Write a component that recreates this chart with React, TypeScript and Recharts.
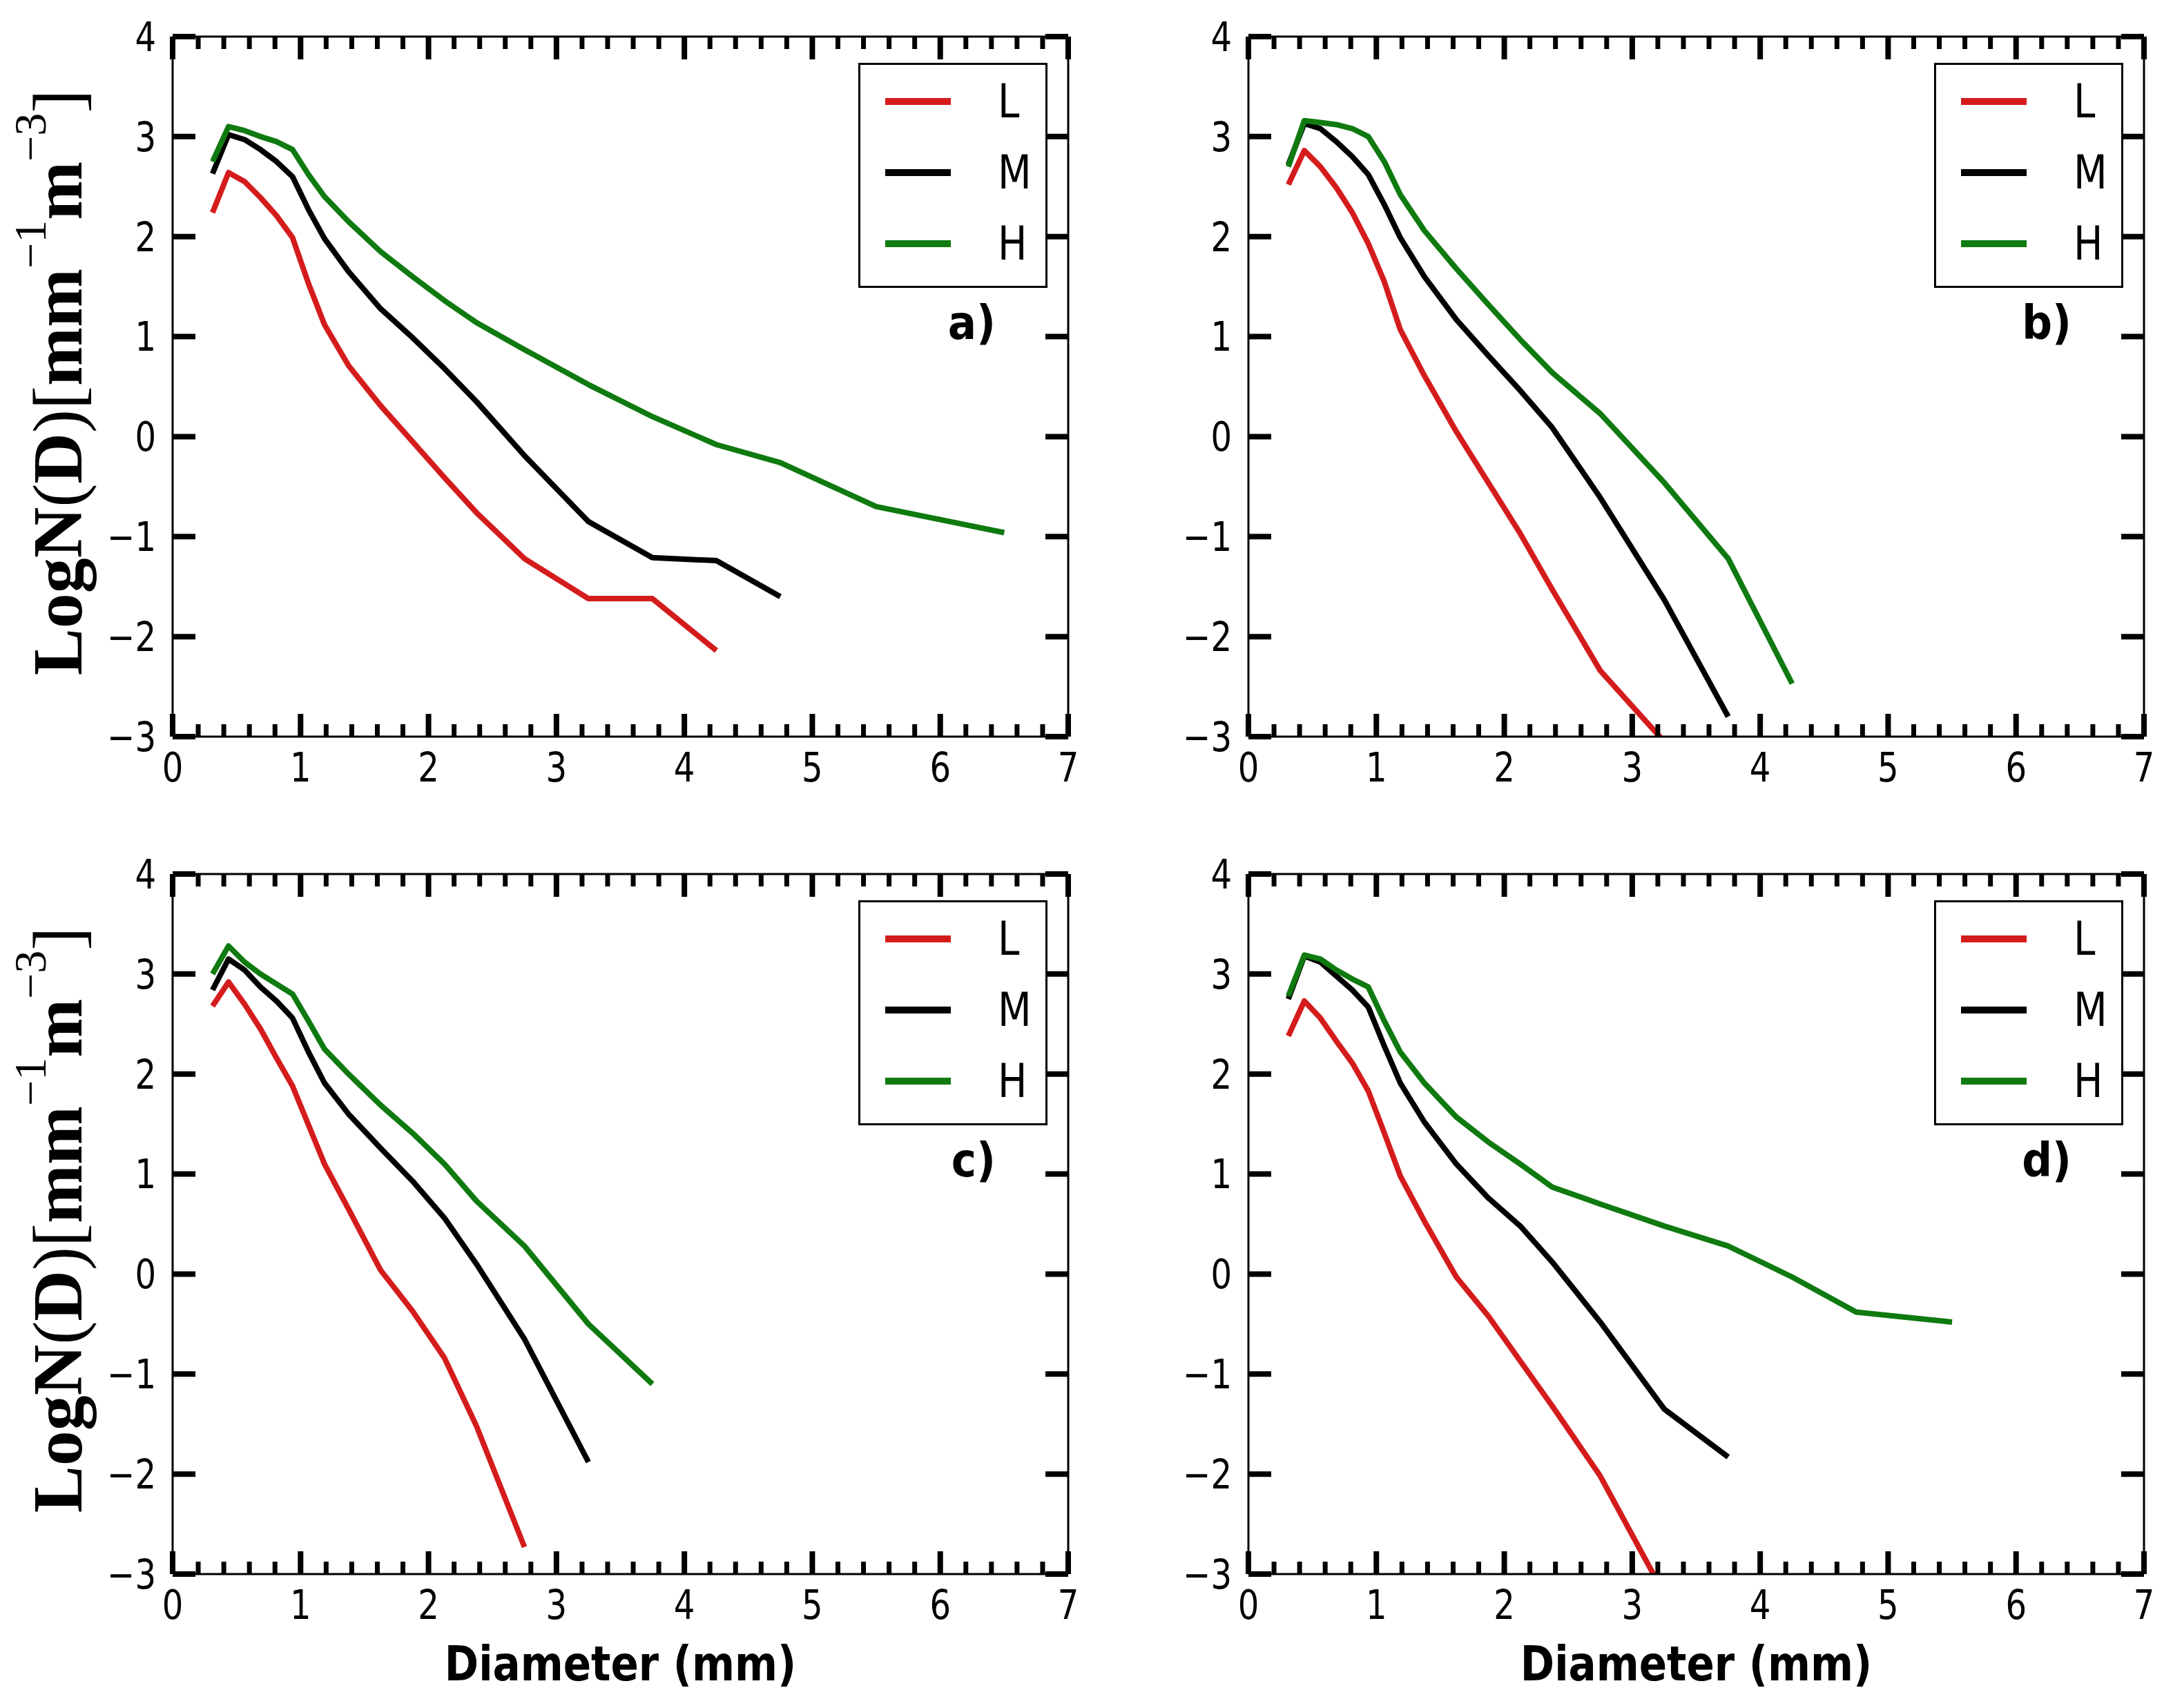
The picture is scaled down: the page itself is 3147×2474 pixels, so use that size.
import { LineChart, Line, XAxis, YAxis, Legend } from "recharts"

// Parsivel bin centres (mm)
const DIAMETERS = [0.312, 0.437, 0.562, 0.687, 0.812, 0.937, 1.062, 1.187, 1.375, 1.625, 1.875, 2.125, 2.375, 2.75, 3.25, 3.75, 4.25, 4.75, 5.5, 6.5]

const A_L = [2.24, 2.64, 2.55, 2.39, 2.21, 1.99, 1.53, 1.12, 0.71, 0.31, -0.05, -0.41, -0.76, -1.22, -1.62, -1.62, -2.14]
const A_M = [2.63, 3.02, 2.97, 2.87, 2.75, 2.6, 2.27, 1.98, 1.65, 1.28, 0.99, 0.68, 0.35, -0.19, -0.85, -1.21, -1.24, -1.6]
const A_H = [2.75, 3.1, 3.06, 3.0, 2.95, 2.87, 2.62, 2.4, 2.15, 1.85, 1.6, 1.36, 1.14, 0.87, 0.52, 0.2, -0.08, -0.26, -0.7, -0.96]

const B_L = [2.52, 2.86, 2.7, 2.49, 2.24, 1.93, 1.55, 1.07, 0.61, 0.05, -0.46, -0.97, -1.53, -2.34, -3.05]
const B_M = [2.72, 3.13, 3.08, 2.95, 2.8, 2.62, 2.32, 1.99, 1.6, 1.17, 0.81, 0.46, 0.09, -0.61, -1.63, -2.8]
const B_H = [2.7, 3.16, 3.14, 3.12, 3.08, 3.0, 2.75, 2.42, 2.06, 1.68, 1.32, 0.97, 0.64, 0.23, -0.46, -1.22, -2.47]

const C_L = [2.68, 2.92, 2.7, 2.45, 2.16, 1.88, 1.49, 1.1, 0.65, 0.04, -0.37, -0.84, -1.52, -2.73]
const C_M = [2.84, 3.15, 3.04, 2.87, 2.73, 2.56, 2.22, 1.91, 1.6, 1.26, 0.93, 0.56, 0.1, -0.65, -1.88]
const C_H = [3.0, 3.28, 3.12, 3.0, 2.9, 2.8, 2.53, 2.25, 2.0, 1.69, 1.41, 1.1, 0.73, 0.28, -0.5, -1.1]

const D_L = [2.38, 2.73, 2.56, 2.33, 2.11, 1.83, 1.41, 0.98, 0.53, -0.03, -0.42, -0.87, -1.32, -2.02, -3.2]
const D_M = [2.75, 3.18, 3.12, 2.98, 2.84, 2.67, 2.28, 1.91, 1.52, 1.1, 0.76, 0.48, 0.12, -0.48, -1.35, -1.83]
const D_H = [2.78, 3.19, 3.15, 3.04, 2.95, 2.87, 2.53, 2.22, 1.91, 1.57, 1.32, 1.1, 0.87, 0.7, 0.48, 0.28, -0.03, -0.38, -0.48]

const SERIES_NAMES = ["L", "M", "H"]
const SERIES_COLORS = ["#d41c1c", "#000000", "#0f7a0f"]

const Y_TICKS = [-3, -2, -1, 0, 1, 2, 3, 4]
const X_TICKS = Array.from({ length: 36 }, (_, i) => Math.round(i * 2) / 10)

// geometry (px, relative to each chart box)
const CHART_W = 1580
const PLOT_LEFT = 250
const PLOT_TOP = 53
const PLOT_W = 1297
const PLOT_H = 1014
const TICK_FONT = "'DejaVu Sans', sans-serif"
const SQUEEZE = 0.83

const PANELS = [
  { letter: "a)", left: 0, top: 0, height: 1213, series: [A_L, A_M, A_H], yTitle: true, xTitle: false },
  { letter: "b)", left: 1558, top: 0, height: 1213, series: [B_L, B_M, B_H], yTitle: false, xTitle: false },
  { letter: "c)", left: 0, top: 1213, height: 1261, series: [C_L, C_M, C_H], yTitle: true, xTitle: true },
  { letter: "d)", left: 1558, top: 1213, height: 1261, series: [D_L, D_M, D_H], yTitle: false, xTitle: true },
]

const fmt = (v: number) => (v < 0 ? `\u2212${-v}` : `${v}`)
const isMajor = (v: number) => Math.abs(v - Math.round(v)) < 1e-6
const toPoints = (vals: number[]) => vals.map((v, i) => ({ d: DIAMETERS[i], v }))

function BottomTick(props: any) {
  const { x, y, payload } = props
  const major = isMajor(payload.value)
  return (
    <g>
      <line x1={x} x2={x} y1={y} y2={y - (major ? 33 : 18)} stroke="#000" strokeWidth={major ? 8 : 7} />
      {major && (
        <text transform={`translate(${x},${y + 65}) scale(${SQUEEZE},1)`} textAnchor="middle" fontFamily={TICK_FONT} fontSize={58} fill="#000">
          {fmt(Math.round(payload.value))}
        </text>
      )}
    </g>
  )
}

function TopTick(props: any) {
  const { x, y, payload } = props
  const major = isMajor(payload.value)
  return <line x1={x} x2={x} y1={y} y2={y + (major ? 33 : 18)} stroke="#000" strokeWidth={major ? 8 : 7} />
}

function LeftTick(props: any) {
  const { x, y, payload } = props
  return (
    <g>
      <line x1={x} x2={x + 33} y1={y} y2={y} stroke="#000" strokeWidth={8} />
      <text transform={`translate(${x - 24},${y}) scale(${SQUEEZE},1)`} dy="0.36em" textAnchor="end" fontFamily={TICK_FONT} fontSize={58} fill="#000">
        {fmt(payload.value)}
      </text>
    </g>
  )
}

function RightTick(props: any) {
  const { x, y } = props
  return <line x1={x} x2={x - 33} y1={y} y2={y} stroke="#000" strokeWidth={8} />
}

function YTitle() {
  return (
    <text transform={`translate(118,${PLOT_TOP + PLOT_H / 2 - 6}) rotate(-90)`} textAnchor="middle" fontFamily="'Liberation Serif', serif" fontWeight="bold" fontSize={102} fill="#000">
      LogN<tspan fontWeight="normal">(</tspan>D<tspan fontWeight="normal">)[</tspan>mm
      <tspan dy={-52} fontSize={66} fontWeight="normal">{"\u2212"}1</tspan>
      <tspan dy={52}>m</tspan>
      <tspan dy={-52} fontSize={66} fontWeight="normal">{"\u2212"}3</tspan>
      <tspan dy={52} fontWeight="normal">]</tspan>
    </text>
  )
}

function XTitle() {
  return (
    <text transform={`translate(${PLOT_LEFT + PLOT_W / 2},${PLOT_TOP + PLOT_H + 154}) scale(0.85,1)`} textAnchor="middle" fontFamily={TICK_FONT} fontWeight="bold" fontSize={70} fill="#000">
      Diameter (mm)
    </text>
  )
}

function PanelLetter({ letter }: { letter: string }) {
  return (
    <text transform={`translate(${PLOT_LEFT + 1192},${PLOT_TOP + 438}) scale(0.9,1)`} textAnchor="end" fontFamily={TICK_FONT} fontWeight="bold" fontSize={68} fill="#000">
      {letter}
    </text>
  )
}

function LegendBox({ payload }: { payload?: any[] }) {
  const entries = payload ?? []
  // keep plotting order L, M, H
  const items = SERIES_NAMES.map((name) => entries.find((e) => e.value === name)).filter(Boolean)
  return (
    <svg width={274} height={326} style={{ display: "block" }}>
      <rect x={1.5} y={1.5} width={271} height={323} fill="#fff" stroke="#000" strokeWidth={3} />
      {items.map((p: any, i) => (
        <g key={p.value}>
          <line x1={39} x2={134} y1={56 + i * 103} y2={56 + i * 103} stroke={p.color} strokeWidth={10} />
          <text transform={`translate(202,${79 + i * 103}) scale(${SQUEEZE},1)`} fontFamily={TICK_FONT} fontSize={68} fill="#000">
            {p.value}
          </text>
        </g>
      ))}
    </svg>
  )
}

function Panel({ letter, height, series, yTitle, xTitle }: (typeof PANELS)[number]) {
  const bottomAxisH = height - 43 - 10 - PLOT_H
  return (
    <LineChart width={CHART_W} height={height} margin={{ top: 43, right: 23, bottom: 0, left: 0 }}>
      <XAxis
        dataKey="d"
        type="number"
        domain={[0, 7]}
        ticks={X_TICKS}
        interval={0}
        allowDataOverflow
        height={bottomAxisH}
        tickSize={0}
        tickMargin={0}
        tickLine={false}
        axisLine={{ stroke: "#000", strokeWidth: 3 }}
        tick={(p: any) => <BottomTick {...p} />}
        label={xTitle ? { content: () => <XTitle /> } : undefined}
      />
      <XAxis
        xAxisId="top"
        orientation="top"
        dataKey="d"
        type="number"
        domain={[0, 7]}
        ticks={X_TICKS}
        interval={0}
        allowDataOverflow
        height={10}
        tickSize={0}
        tickMargin={0}
        tickLine={false}
        axisLine={{ stroke: "#000", strokeWidth: 3 }}
        tick={(p: any) => <TopTick {...p} />}
      />
      <YAxis
        type="number"
        domain={[-3, 4]}
        ticks={Y_TICKS}
        interval={0}
        allowDataOverflow
        width={PLOT_LEFT}
        tickSize={0}
        tickMargin={0}
        tickLine={false}
        axisLine={{ stroke: "#000", strokeWidth: 3 }}
        tick={(p: any) => <LeftTick {...p} />}
        label={yTitle ? { content: () => <YTitle /> } : undefined}
      />
      <YAxis
        yAxisId="right"
        orientation="right"
        type="number"
        domain={[-3, 4]}
        ticks={Y_TICKS}
        interval={0}
        allowDataOverflow
        width={10}
        tickSize={0}
        tickMargin={0}
        tickLine={false}
        axisLine={{ stroke: "#000", strokeWidth: 3 }}
        tick={(p: any) => <RightTick {...p} />}
        label={{ content: () => <PanelLetter letter={letter} /> }}
      />
      <Legend
        layout="horizontal"
        verticalAlign="middle"
        align="center"
        wrapperStyle={{ left: 1243, top: 91, width: 274, height: 326 }}
        content={(p: any) => <LegendBox payload={p.payload} />}
      />
      {series.map((vals, i) => (
        <Line
          key={SERIES_NAMES[i]}
          data={toPoints(vals)}
          dataKey="v"
          name={SERIES_NAMES[i]}
          type="linear"
          stroke={SERIES_COLORS[i]}
          strokeWidth={8}
          strokeLinejoin="round"
          dot={false}
          activeDot={false}
          isAnimationActive={false}
        />
      ))}
    </LineChart>
  )
}

export default function App() {
  return (
    <div style={{ position: "absolute", left: 0, top: 0, width: 3147, height: 2474, background: "#fff", overflow: "hidden" }}>
      {PANELS.map((p) => (
        <div key={p.letter} style={{ position: "absolute", left: p.left, top: p.top }}>
          <Panel {...p} />
        </div>
      ))}
    </div>
  )
}
